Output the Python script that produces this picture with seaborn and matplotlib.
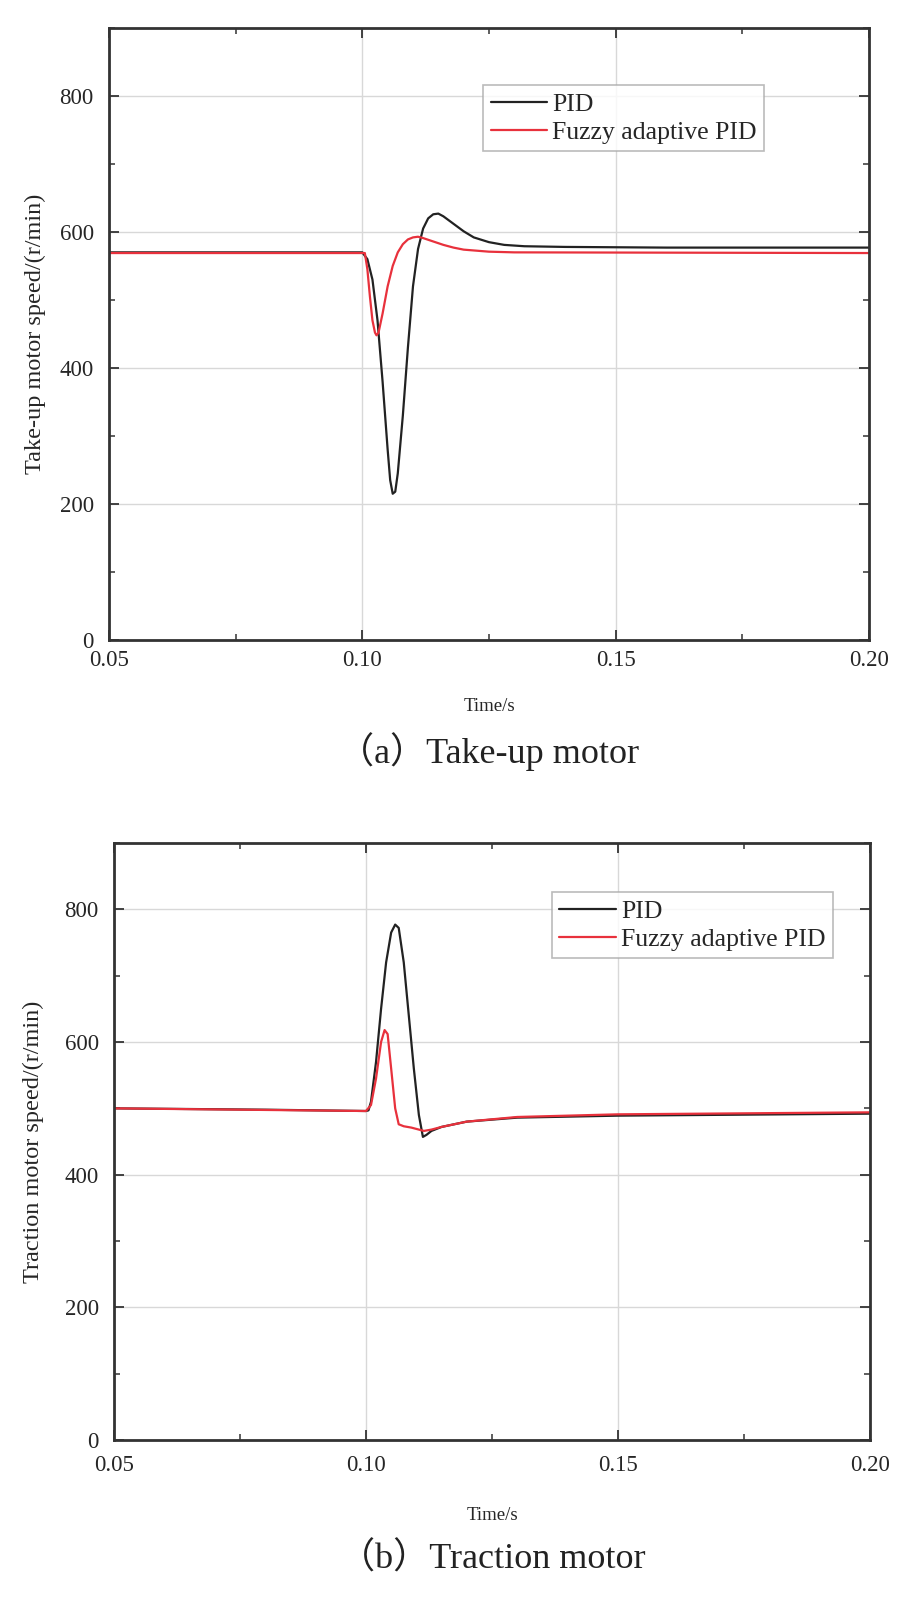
import numpy as np
import pandas as pd
import matplotlib
matplotlib.use("Agg")
import matplotlib.pyplot as plt
import seaborn as sns
from matplotlib.ticker import MultipleLocator, FormatStrFormatter

# ---------------- data ----------------
series_names = ["PID", "Fuzzy adaptive PID"]

# (a) Take-up motor
a_pid_t = [0.050, 0.100, 0.1010, 0.1020, 0.1030, 0.1040, 0.1050, 0.1055, 0.1060, 0.1065,
           0.1070, 0.1080, 0.1090, 0.1100, 0.1110, 0.1120, 0.1130, 0.1140, 0.1150, 0.1160,
           0.1180, 0.1200, 0.1220, 0.1250, 0.1280, 0.1320, 0.1400, 0.1600, 0.2000]
a_pid_v = [570, 570, 560, 530, 470, 380, 280, 235, 215, 218,
           245, 330, 430, 520, 575, 605, 620, 626, 627, 623,
           612, 601, 592, 585, 581, 579, 578, 577, 577]
a_fuz_t = [0.050, 0.1005, 0.1010, 0.1015, 0.1020, 0.1025, 0.1028, 0.1032, 0.1040, 0.1050,
           0.1060, 0.1070, 0.1080, 0.1090, 0.1100, 0.1110, 0.1120, 0.1140, 0.1160, 0.1180,
           0.1200, 0.1250, 0.1300, 0.2000]
a_fuz_v = [569, 569, 545, 505, 470, 452, 448, 452, 480, 520,
           550, 570, 582, 589, 592, 593, 591, 586, 581, 577,
           574, 571, 570, 569]

# (b) Traction motor
b_pid_t = [0.050, 0.080, 0.1000, 0.1005, 0.1010, 0.1020, 0.1030, 0.1040, 0.1050, 0.1058,
           0.1065, 0.1075, 0.1085, 0.1095, 0.1105, 0.1113, 0.1120, 0.1130, 0.1150, 0.1200,
           0.1300, 0.1500, 0.2000]
b_pid_v = [500, 498, 496, 497, 510, 570, 650, 720, 765, 777,
           772, 720, 640, 560, 490, 457, 460, 466, 472, 480,
           486, 489, 492]
b_fuz_t = [0.050, 0.1000, 0.1010, 0.1020, 0.1030, 0.1037, 0.1043, 0.1050, 0.1058, 0.1065,
           0.1075, 0.1090, 0.1105, 0.1115, 0.1130, 0.1150, 0.1200, 0.1300, 0.1500, 0.2000]
b_fuz_v = [500, 496, 505, 545, 600, 618, 612, 560, 500, 476,
           473, 471, 468, 466, 468, 472, 480, 487, 491, 494]

x_ticks = [0.05, 0.10, 0.15, 0.20]
y_ticks = [0, 200, 400, 600, 800]
y_labels = ["Take-up motor speed/(r/min)", "Traction motor speed/(r/min)"]
x_label = "Time/s"
captions = ["（a）Take-up motor", "（b）Traction motor"]

# ---------------- style ----------------
sns.set_style("ticks")
plt.rcParams["font.family"] = ["Liberation Serif", "Noto Sans CJK SC", "DejaVu Sans"]
plt.rcParams["axes.unicode_minus"] = False

colors = {"PID": "#222222", "Fuzzy adaptive PID": "#e8313c"}

fig = plt.figure(figsize=(9.03, 15.99), dpi=100)
ax_a = fig.add_axes([0.1207, 0.5998, 0.8416, 0.3827])
ax_b = fig.add_axes([0.1262, 0.0994, 0.8372, 0.3734])

def make_df(pid_t, pid_v, fuz_t, fuz_v):
    d1 = pd.DataFrame({"t": pid_t, "v": pid_v, "s": series_names[0]})
    d2 = pd.DataFrame({"t": fuz_t, "v": fuz_v, "s": series_names[1]})
    return pd.concat([d1, d2], ignore_index=True)

# (ax, df, ylabel, caption, legend anchor, xtick pad, xlabel y, caption y, ylabel x)
panels = [
    (ax_a, make_df(a_pid_t, a_pid_v, a_fuz_t, a_fuz_v), y_labels[0], captions[0],
     (0.492, 0.907), 7.5, -0.1095, -0.183, -0.097),
    (ax_b, make_df(b_pid_t, b_pid_v, b_fuz_t, b_fuz_v), y_labels[1], captions[1],
     (0.579, 0.918), 10.5, -0.1256, -0.199, -0.106),
]

for ax, df, ylab, cap, anchor, xpad, xly, capy, ylx in panels:
    ax.grid(True, which="major", color="#d8d8d8", linewidth=1.0)
    ax.set_axisbelow(True)
    sns.lineplot(data=df, x="t", y="v", hue="s", palette=colors, sort=False,
                 linewidth=1.6, ax=ax, legend=True)
    ax.set_xlim(0.05, 0.20)
    ax.set_ylim(0, 900)
    ax.set_xticks(x_ticks)
    ax.set_yticks(y_ticks)
    ax.xaxis.set_major_formatter(FormatStrFormatter("%.2f"))
    ax.xaxis.set_minor_locator(MultipleLocator(0.025))
    ax.yaxis.set_minor_locator(MultipleLocator(100))
    ax.tick_params(which="both", direction="in", top=True, right=True,
                   labelsize=16.5, color="#333333")
    ax.tick_params(axis="y", pad=11)
    ax.tick_params(axis="x", pad=xpad)
    ax.tick_params(which="major", length=7, width=1.3)
    ax.tick_params(which="minor", length=4, width=1.1)
    for sp in ax.spines.values():
        sp.set_linewidth(2.0)
        sp.set_color("#333333")
    ax.set_xlabel(x_label, fontsize=13.5)
    ax.xaxis.set_label_coords(0.5, xly)
    ax.xaxis.label.set_va("center")
    ax.set_ylabel(ylab, fontsize=17.5)
    ax.yaxis.set_label_coords(ylx, 0.5)
    ax.yaxis.label.set_va("center")
    leg = ax.legend(loc="upper left", bbox_to_anchor=anchor, fontsize=18.5,
                    frameon=True, fancybox=False, edgecolor="#aaaaaa",
                    handlelength=2.2, handletextpad=0.2, borderpad=0.3,
                    labelspacing=0.2, borderaxespad=0)
    leg.get_frame().set_linewidth(1.2)
    ax.text(0.5, capy, cap, transform=ax.transAxes, ha="center", va="center",
            fontsize=26, color="#222222")

fig.savefig("out.png", dpi=100)
